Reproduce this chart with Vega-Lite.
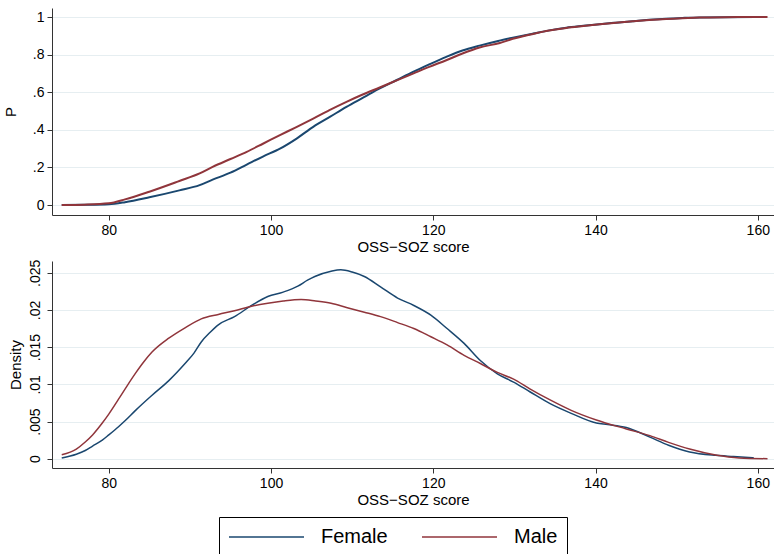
{
  "$schema": "https://vega.github.io/schema/vega-lite/v6.json",
  "padding": {"left": 3, "top": 8, "right": 1, "bottom": 0},
  "spacing": 5,
  "background": "white",
  "config": {
    "font": "Liberation Sans",
    "view": {"stroke": null},
    "axis": {
      "domainColor": "#333333", "tickColor": "#333333", "tickSize": 5,
      "labelFont": "Liberation Sans", "labelFontSize": 14, "labelColor": "#000000",
      "titleFont": "Liberation Sans", "titleFontSize": 15, "titleFontWeight": "normal", "titleColor": "#000000",
      "gridColor": "#e6eef1", "gridWidth": 1, "labelPadding": 3, "titlePadding": 2
    },
    "legend": {
      "orient": "none", "legendX": 167, "legendY": 509,
      "direction": "horizontal", "title": null,
      "symbolType": "M-1,0H6.5", "symbolSize": 400, "symbolStrokeWidth": 1.5,
      "labelFontSize": 20, "labelFont": "Liberation Sans", "labelColor": "#000000",
      "labelOffset": 71, "columnPadding": 31, "padding": 9,
      "strokeColor": "#000000", "fillColor": "white", "cornerRadius": 0
    }
  },
  "datasets": {
    "cdf": [
      {"x": 74.2, "p": 0, "sex": "Female"}, {"x": 77, "p": 0.001, "sex": "Female"}, {"x": 80, "p": 0.004, "sex": "Female"},
      {"x": 82, "p": 0.015, "sex": "Female"}, {"x": 85, "p": 0.041, "sex": "Female"}, {"x": 88.7, "p": 0.078, "sex": "Female"},
      {"x": 91.2, "p": 0.106, "sex": "Female"}, {"x": 92.8, "p": 0.135, "sex": "Female"}, {"x": 95, "p": 0.172, "sex": "Female"},
      {"x": 97, "p": 0.215, "sex": "Female"}, {"x": 99, "p": 0.258, "sex": "Female"}, {"x": 101.1, "p": 0.300, "sex": "Female"},
      {"x": 103.2, "p": 0.355, "sex": "Female"}, {"x": 105.2, "p": 0.416, "sex": "Female"}, {"x": 107.3, "p": 0.470, "sex": "Female"},
      {"x": 109.3, "p": 0.522, "sex": "Female"}, {"x": 111.4, "p": 0.572, "sex": "Female"}, {"x": 113.4, "p": 0.620, "sex": "Female"},
      {"x": 115.5, "p": 0.665, "sex": "Female"}, {"x": 117.5, "p": 0.708, "sex": "Female"}, {"x": 119.5, "p": 0.748, "sex": "Female"},
      {"x": 121.6, "p": 0.788, "sex": "Female"}, {"x": 123.6, "p": 0.822, "sex": "Female"}, {"x": 125.7, "p": 0.848, "sex": "Female"},
      {"x": 128, "p": 0.873, "sex": "Female"}, {"x": 129.8, "p": 0.890, "sex": "Female"}, {"x": 132.3, "p": 0.912, "sex": "Female"},
      {"x": 134.3, "p": 0.929, "sex": "Female"}, {"x": 136.4, "p": 0.943, "sex": "Female"}, {"x": 138.5, "p": 0.953, "sex": "Female"},
      {"x": 140.5, "p": 0.962, "sex": "Female"}, {"x": 142.5, "p": 0.970, "sex": "Female"}, {"x": 144.6, "p": 0.978, "sex": "Female"},
      {"x": 146.6, "p": 0.985, "sex": "Female"}, {"x": 148.7, "p": 0.991, "sex": "Female"}, {"x": 150.7, "p": 0.995, "sex": "Female"},
      {"x": 152.8, "p": 0.998, "sex": "Female"}, {"x": 156, "p": 0.999, "sex": "Female"}, {"x": 159.8, "p": 1.0, "sex": "Female"},
      {"x": 74.2, "p": 0, "sex": "Male"}, {"x": 77, "p": 0.002, "sex": "Male"}, {"x": 80, "p": 0.009, "sex": "Male"},
      {"x": 82, "p": 0.030, "sex": "Male"}, {"x": 85, "p": 0.071, "sex": "Male"}, {"x": 88.7, "p": 0.128, "sex": "Male"},
      {"x": 91.2, "p": 0.168, "sex": "Male"}, {"x": 92.8, "p": 0.203, "sex": "Male"}, {"x": 95, "p": 0.245, "sex": "Male"},
      {"x": 97, "p": 0.283, "sex": "Male"}, {"x": 99, "p": 0.326, "sex": "Male"}, {"x": 101.1, "p": 0.372, "sex": "Male"},
      {"x": 103, "p": 0.412, "sex": "Male"}, {"x": 105.2, "p": 0.460, "sex": "Male"}, {"x": 107.2, "p": 0.505, "sex": "Male"},
      {"x": 109.3, "p": 0.549, "sex": "Male"}, {"x": 111.3, "p": 0.588, "sex": "Male"}, {"x": 113.4, "p": 0.625, "sex": "Male"},
      {"x": 115.5, "p": 0.663, "sex": "Male"}, {"x": 117.5, "p": 0.699, "sex": "Male"}, {"x": 119.5, "p": 0.735, "sex": "Male"},
      {"x": 121.6, "p": 0.770, "sex": "Male"}, {"x": 123.6, "p": 0.806, "sex": "Male"}, {"x": 125.7, "p": 0.838, "sex": "Male"},
      {"x": 128.2, "p": 0.862, "sex": "Male"}, {"x": 129.8, "p": 0.884, "sex": "Male"}, {"x": 132.3, "p": 0.910, "sex": "Male"},
      {"x": 134.3, "p": 0.928, "sex": "Male"}, {"x": 136.4, "p": 0.942, "sex": "Male"}, {"x": 138.5, "p": 0.952, "sex": "Male"},
      {"x": 140.5, "p": 0.961, "sex": "Male"}, {"x": 142.5, "p": 0.969, "sex": "Male"}, {"x": 144.6, "p": 0.977, "sex": "Male"},
      {"x": 146.6, "p": 0.984, "sex": "Male"}, {"x": 148.7, "p": 0.990, "sex": "Male"}, {"x": 150.7, "p": 0.994, "sex": "Male"},
      {"x": 152.8, "p": 0.997, "sex": "Male"}, {"x": 156, "p": 0.999, "sex": "Male"}, {"x": 161.2, "p": 1.0, "sex": "Male"}
    ],
    "dens": [
      {"x": 74.2, "d": 0.0001, "sex": "Female"}, {"x": 76, "d": 0.0006, "sex": "Female"}, {"x": 77.1, "d": 0.0011, "sex": "Female"},
      {"x": 78, "d": 0.0017, "sex": "Female"}, {"x": 79.2, "d": 0.0025, "sex": "Female"}, {"x": 80, "d": 0.0032, "sex": "Female"},
      {"x": 81.2, "d": 0.0043, "sex": "Female"}, {"x": 82, "d": 0.0051, "sex": "Female"}, {"x": 83.3, "d": 0.0065, "sex": "Female"},
      {"x": 85.3, "d": 0.0085, "sex": "Female"}, {"x": 87.4, "d": 0.0105, "sex": "Female"}, {"x": 89.4, "d": 0.0128, "sex": "Female"},
      {"x": 90.5, "d": 0.0142, "sex": "Female"}, {"x": 91.4, "d": 0.0157, "sex": "Female"}, {"x": 92.5, "d": 0.0170, "sex": "Female"},
      {"x": 93.5, "d": 0.0180, "sex": "Female"}, {"x": 95.5, "d": 0.0191, "sex": "Female"}, {"x": 97.6, "d": 0.0206, "sex": "Female"},
      {"x": 99.6, "d": 0.0218, "sex": "Female"}, {"x": 101.5, "d": 0.0224, "sex": "Female"}, {"x": 103.3, "d": 0.0232, "sex": "Female"},
      {"x": 104.5, "d": 0.0240, "sex": "Female"}, {"x": 105.4, "d": 0.0245, "sex": "Female"}, {"x": 107.4, "d": 0.0252, "sex": "Female"},
      {"x": 108.6, "d": 0.0254, "sex": "Female"}, {"x": 110, "d": 0.0251, "sex": "Female"}, {"x": 111.5, "d": 0.0245, "sex": "Female"},
      {"x": 113.5, "d": 0.0231, "sex": "Female"}, {"x": 115.6, "d": 0.0216, "sex": "Female"}, {"x": 117.6, "d": 0.0206, "sex": "Female"},
      {"x": 119.7, "d": 0.0193, "sex": "Female"}, {"x": 121.7, "d": 0.0175, "sex": "Female"}, {"x": 123.8, "d": 0.0155, "sex": "Female"},
      {"x": 125.8, "d": 0.0132, "sex": "Female"}, {"x": 127.9, "d": 0.0114, "sex": "Female"}, {"x": 129.9, "d": 0.0103, "sex": "Female"},
      {"x": 131.9, "d": 0.0090, "sex": "Female"}, {"x": 134.4, "d": 0.0074, "sex": "Female"}, {"x": 137, "d": 0.0061, "sex": "Female"},
      {"x": 140.1, "d": 0.0048, "sex": "Female"}, {"x": 141.5, "d": 0.0046, "sex": "Female"}, {"x": 143.8, "d": 0.0042, "sex": "Female"},
      {"x": 146.7, "d": 0.0029, "sex": "Female"}, {"x": 149, "d": 0.0018, "sex": "Female"}, {"x": 151.6, "d": 0.0009, "sex": "Female"},
      {"x": 154.8, "d": 0.00045, "sex": "Female"}, {"x": 157, "d": 0.0003, "sex": "Female"}, {"x": 159.5, "d": 0.00013, "sex": "Female"},
      {"x": 74.2, "d": 0.00054, "sex": "Male"}, {"x": 76, "d": 0.0013, "sex": "Male"}, {"x": 77.1, "d": 0.00225, "sex": "Male"},
      {"x": 78, "d": 0.0032, "sex": "Male"}, {"x": 79.2, "d": 0.0048, "sex": "Male"}, {"x": 80, "d": 0.0060, "sex": "Male"},
      {"x": 81.2, "d": 0.0080, "sex": "Male"}, {"x": 82.2, "d": 0.0097, "sex": "Male"}, {"x": 83.3, "d": 0.0115, "sex": "Male"},
      {"x": 84.3, "d": 0.0130, "sex": "Male"}, {"x": 85.3, "d": 0.0143, "sex": "Male"}, {"x": 87.4, "d": 0.0162, "sex": "Male"},
      {"x": 89.4, "d": 0.0176, "sex": "Male"}, {"x": 91.4, "d": 0.0188, "sex": "Male"}, {"x": 93.5, "d": 0.0194, "sex": "Male"},
      {"x": 95.5, "d": 0.0199, "sex": "Male"}, {"x": 97.6, "d": 0.0205, "sex": "Male"}, {"x": 99.6, "d": 0.0209, "sex": "Male"},
      {"x": 101.5, "d": 0.0212, "sex": "Male"}, {"x": 103.7, "d": 0.0214, "sex": "Male"}, {"x": 105.5, "d": 0.0212, "sex": "Male"},
      {"x": 107.4, "d": 0.0209, "sex": "Male"}, {"x": 109.4, "d": 0.0203, "sex": "Male"}, {"x": 111.5, "d": 0.0197, "sex": "Male"},
      {"x": 113.5, "d": 0.0191, "sex": "Male"}, {"x": 115.6, "d": 0.0183, "sex": "Male"}, {"x": 117.6, "d": 0.0175, "sex": "Male"},
      {"x": 119.7, "d": 0.0164, "sex": "Male"}, {"x": 121.7, "d": 0.0153, "sex": "Male"}, {"x": 123.8, "d": 0.0139, "sex": "Male"},
      {"x": 125.8, "d": 0.0128, "sex": "Male"}, {"x": 127.9, "d": 0.0116, "sex": "Male"}, {"x": 129.9, "d": 0.0107, "sex": "Male"},
      {"x": 131.9, "d": 0.0094, "sex": "Male"}, {"x": 134.4, "d": 0.0079, "sex": "Male"}, {"x": 137, "d": 0.0065, "sex": "Male"},
      {"x": 140.1, "d": 0.0052, "sex": "Male"}, {"x": 143.8, "d": 0.0040, "sex": "Male"}, {"x": 146.7, "d": 0.0031, "sex": "Male"},
      {"x": 149, "d": 0.0022, "sex": "Male"}, {"x": 151.6, "d": 0.0013, "sex": "Male"}, {"x": 154.8, "d": 0.0005, "sex": "Male"},
      {"x": 157.7, "d": 0.0001, "sex": "Male"}, {"x": 161.2, "d": 0.0, "sex": "Male"}
    ]
  },
  "vconcat": [
    {
      "width": 722, "height": 207,
      "data": {"name": "cdf"},
      "mark": {"type": "line", "strokeWidth": 2, "interpolate": "monotone"},
      "encoding": {
        "x": {"field": "x", "type": "quantitative", "scale": {"domain": [73, 162], "nice": false, "zero": false},
              "axis": {"values": [80, 100, 120, 140, 160], "grid": false, "title": "OSS−SOZ score", "labelFlush": false}},
        "y": {"field": "p", "type": "quantitative", "scale": {"domain": [-0.053, 1.048], "nice": false, "zero": false},
              "axis": {"values": [0, 0.2, 0.4, 0.6, 0.8, 1], "grid": true, "title": "P", "labelPadding": 3, "titlePadding": 14,
                       "labelExpr": "datum.value == 0 ? '0' : (datum.value == 1 ? '1' : replace(format(datum.value, '.1~f'), '0.', '.'))"}},
        "color": {"field": "sex", "type": "nominal", "scale": {"domain": ["Female", "Male"], "range": ["#1a476f", "#90353b"]}}
      }
    },
    {
      "width": 722, "height": 207,
      "data": {"name": "dens"},
      "mark": {"type": "line", "strokeWidth": 1.5, "interpolate": "monotone"},
      "encoding": {
        "x": {"field": "x", "type": "quantitative", "scale": {"domain": [73, 162], "nice": false, "zero": false},
              "axis": {"values": [80, 100, 120, 140, 160], "grid": false, "title": "OSS−SOZ score", "labelFlush": false}},
        "y": {"field": "d", "type": "quantitative", "scale": {"domain": [-0.00125, 0.02658], "nice": false, "zero": false},
              "axis": {"values": [0, 0.005, 0.01, 0.015, 0.02, 0.025], "grid": true, "title": "Density",
                       "labelAngle": 270, "labelAlign": "center", "labelBaseline": "bottom", "labelPadding": 5, "titlePadding": 5,
                       "labelExpr": "datum.value == 0 ? '0' : replace(format(datum.value, '.3~f'), '0.', '.')"}},
        "color": {"field": "sex", "type": "nominal", "scale": {"domain": ["Female", "Male"], "range": ["#1a476f", "#90353b"]}}
      }
    }
  ]
}
